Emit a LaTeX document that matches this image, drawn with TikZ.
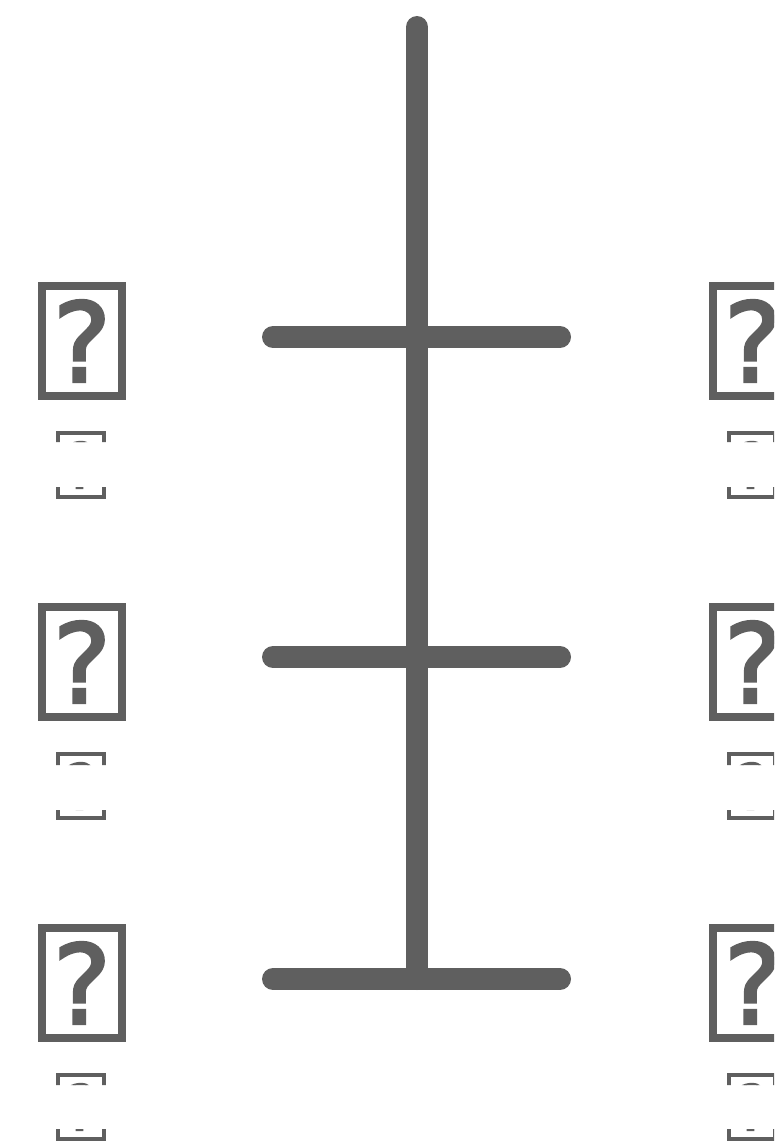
\documentclass[tikz,border=0pt]{standalone}
\usepackage{fontspec}
\setmainfont{DejaVu Sans}
\newfontfamily\qfont[FakeBold=2.5]{DejaVu Sans}
\usetikzlibrary{calc}
\definecolor{ink}{HTML}{5F5F5F}

\begin{document}
\begin{tikzpicture}[x=1pt, y=-1pt,
  trunk/.style={draw=ink, line width=22pt, line cap=round},
  bigtofu/.style={draw=ink, line width=8pt, text=ink, inner sep=0pt,
                  minimum width=80pt, minimum height=110pt,
                  font=\qfont\fontsize{110}{110}\selectfont},
  smalltofu/.style={draw=ink, line width=4pt, text=ink, inner sep=0pt,
                  minimum width=46pt, minimum height=64pt,
                  font=\qfont\fontsize{63}{63}\selectfont}]
\useasboundingbox (0,0) rectangle (774,1148);
\clip (0,0) rectangle (774,1148); % right column runs off the page
% trunk with three cross bars
\coordinate (top) at (417,27);
\foreach \i/\y in {1/337, 2/657, 3/979} {
  \coordinate (bar\i) at (417,\y);
  \draw[trunk] ($(bar\i)+(-144,0)$) -- ($(bar\i)+(143,0)$);
}
\draw[trunk] (top) -- (bar3);
% missing-glyph labels on both sides, the small ones cut in the middle
\foreach \i/\y/\t/\a/\b in {1/341/431/442/487, 2/662/752/765/810, 3/983/1073/1085/1129} {
  \foreach \s/\x/\xs in {l/82/81, r/753/752} {
    \node[bigtofu] (q\s\i) at (\x,\y) {?};
    \begin{scope}
      \clip (\xs-30,\t-3) rectangle (\xs+30,\a)
            (\xs-30,\b) rectangle (\xs+30,\t+71);
      \node[smalltofu] (s\s\i) at (\xs,\t+34) {?};
    \end{scope}
  }
}
\end{tikzpicture}
\end{document}
